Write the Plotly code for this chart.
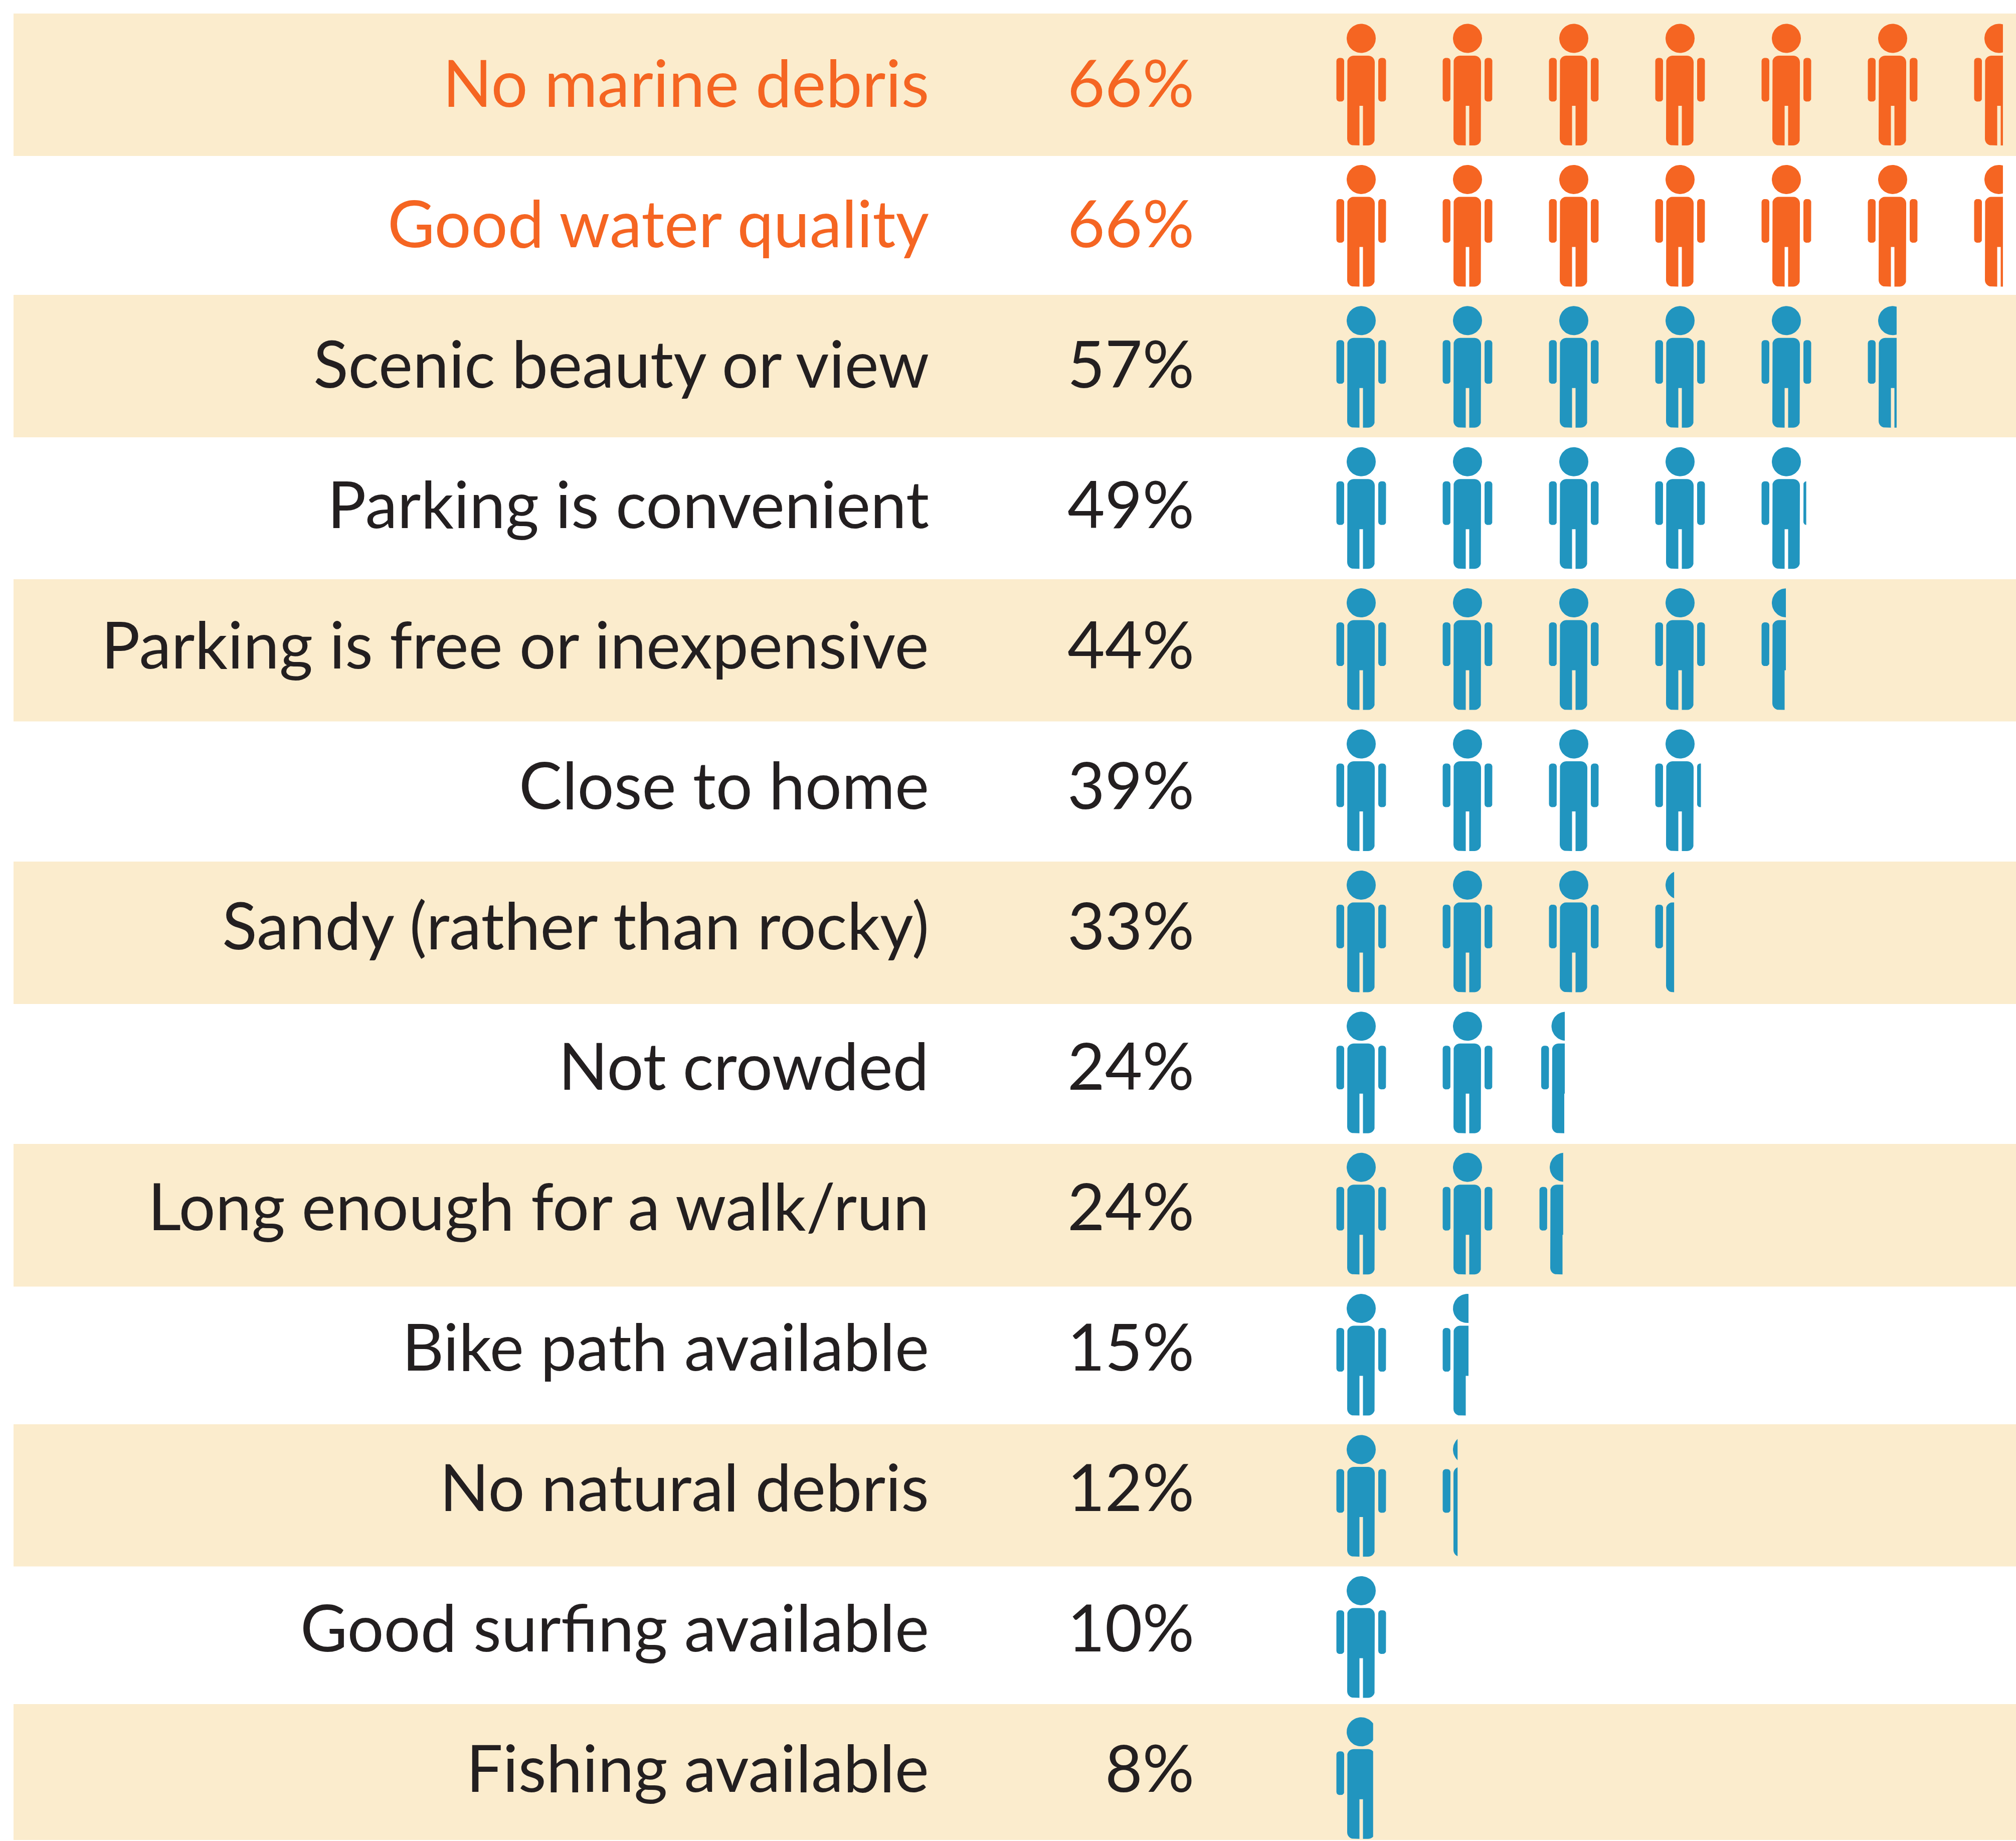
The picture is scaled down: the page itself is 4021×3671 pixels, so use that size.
import numpy as np
import plotly.graph_objects as go

W, H = 4021, 3671
labels = ["No marine debris", "Good water quality", "Scenic beauty or view", "Parking is convenient",
          "Parking is free or inexpensive", "Close to home", "Sandy (rather than rocky)", "Not crowded",
          "Long enough for a walk/run", "Bike path available", "No natural debris", "Good surfing available",
          "Fishing available"]
percent = [66, 66, 57, 49, 44, 39, 33, 24, 24, 15, 12, 10, 8]
highlight = [True, True] + [False] * 11
# number of whole figures, and the visible share of the last partial one, as drawn
whole_figures = [6, 6, 5, 4, 4, 3, 3, 2, 2, 1, 1, 1, 0]
partial_share = [0.58, 0.58, 0.58, 0.90, 0.49, 0.92, 0.38, 0.475, 0.478, 0.52, 0.30, 0.0, 0.74]
partial_shift = [0, 0, 0, 0, 0, 0, 0, -15.5, -19, 0, 0, 0, 0]
band_tops = [27, 588, 1155, 1718, 2281, 2840, 3398]
band_bottoms = [311, 872, 1438.5, 2002, 2565.4, 3123.5, 3669]

ORANGE, BLUE, CREAM, INK = "#F56522", "#2195BF", "#FBECCD", "#231F20"
FONT = "Lato"
FS = 129
ROW0_FIG, ROW_FIG = 47.5, 281.4
ROW0_TXT, ROW_TXT = 163, 280.0


def rrect(x0, x1, y0, y1, r):
    pts = []
    for cx, cy, a0 in [(x1 - r, y0 + r, -90), (x1 - r, y1 - r, 0), (x0 + r, y1 - r, 90), (x0 + r, y0 + r, 180)]:
        t = np.radians(np.linspace(a0, a0 + 90, 7))
        pts += [(cx + r * np.cos(a), cy + r * np.sin(a)) for a in t]
    return pts


def body():
    x0, x1, y0, y1, r = -28, 27, 63.5, 242.5, 13
    gl, gr, gt = -3.5, 3.5, 163.5
    pts = rrect(x0, x1, y0, y1, r)
    # insert the leg gap in the bottom edge
    idx = next(i for i, p in enumerate(pts) if p[1] >= y1 - 1e-6 and i > 6 and abs(p[0] - (x0 + r)) < 1e-6)
    return pts[:idx] + [(gr, y1), (gr, gt), (gl, gt), (gl, y1)] + pts[idx:]


def person():
    t = np.linspace(0, 2 * np.pi, 60)
    head = [(29 * np.cos(a), 29 + 29 * np.sin(a)) for a in t]
    arm_l = rrect(-49.5, -34, 68, 155, 6)
    arm_r = rrect(34, 49.5, 68, 155, 6)
    return [head, arm_l, arm_r, body()]


def clip_right(poly, xc):
    out = []
    n = len(poly)
    for i in range(n):
        a, b = poly[i], poly[(i + 1) % n]
        ina, inb = a[0] <= xc, b[0] <= xc
        if ina:
            out.append(a)
        if ina != inb:
            s = (xc - a[0]) / (b[0] - a[0])
            out.append((xc, a[1] + s * (b[1] - a[1])))
    return out


CX0, PITCH, HALF = 2715, 212, 49.5

fig = go.Figure()
for top, bottom in zip(band_tops, band_bottoms):
    fig.add_shape(type="rect", x0=27, x1=W, y0=top, y1=bottom, fillcolor=CREAM, line_width=0, layer="below")

for i, lab in enumerate(labels):
    fig_top = ROW0_FIG + i * ROW_FIG
    col = ORANGE if highlight[i] else BLUE
    xs, ys = [], []
    count = whole_figures[i] + (1 if partial_share[i] > 0 else 0)
    for k in range(count):
        whole = k < whole_figures[i]
        cx = CX0 + k * PITCH + (0 if whole else partial_shift[i])
        share = 1.0 if whole else partial_share[i]
        xc = cx - HALF + share * 2 * HALF
        for poly in person():
            shifted = [(cx + p[0], fig_top + p[1]) for p in poly]
            clipped = clip_right(shifted, xc) if share < 1 else shifted
            if clipped:
                xs += [p[0] for p in clipped] + [clipped[0][0], None]
                ys += [p[1] for p in clipped] + [clipped[0][1], None]
    fig.add_trace(go.Scatter(x=xs, y=ys, mode="lines", fill="toself", fillcolor=col, line=dict(width=0),
                             name=lab, hoverinfo="name", showlegend=False))
    mid = ROW0_TXT + i * ROW_TXT
    txt = ORANGE if highlight[i] else INK
    fig.add_annotation(x=1855, y=mid, xref="x", yref="y", text=lab, showarrow=False, xanchor="right",
                       yanchor="middle", font=dict(family=FONT, size=FS, color=txt))
    fig.add_annotation(x=2384, y=mid, xref="x", yref="y", text=f"{percent[i]}%", showarrow=False, xanchor="right",
                       yanchor="middle", font=dict(family=FONT, size=FS, color=txt))

fig.update_layout(width=W, height=H, margin=dict(l=0, r=0, t=0, b=0), paper_bgcolor="white", plot_bgcolor="white",
                  xaxis=dict(range=[0, W], visible=False, fixedrange=True),
                  yaxis=dict(range=[H, 0], visible=False, fixedrange=True))
fig.write_html("out.html", post_script="document.body.style.margin='0';", config=dict(displayModeBar=False))
